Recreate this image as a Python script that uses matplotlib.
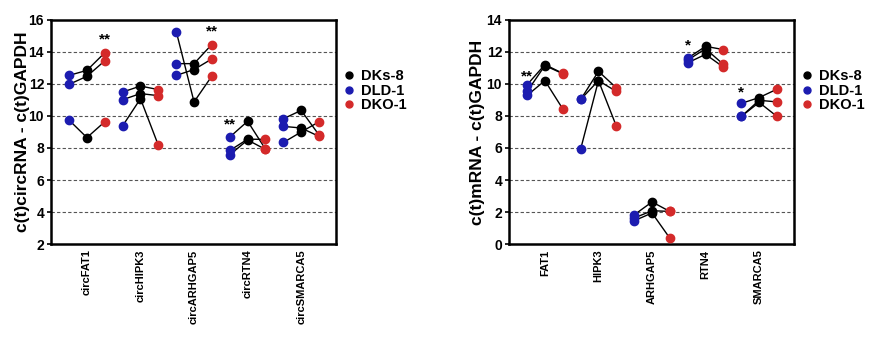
import matplotlib
matplotlib.use("Agg")
import matplotlib.pyplot as plt

plt.rcParams['font.family'] = ['Liberation Sans', 'DejaVu Sans']
plt.rcParams['font.weight'] = 'bold'

# order inside each gene: DLD-1 (left), DKs-8 (middle), DKO-1 (right)
circ_genes = ['circFAT1', 'circHIPK3', 'circARHGAP5', 'circRTN4', 'circSMARCA5']
circ_dld = [[12.54, 11.98, 9.73], [11.50, 11.02, 9.40], [15.25, 13.27, 12.54],
            [8.69, 7.85, 7.58], [9.83, 9.35, 8.35]]
circ_dks = [[12.85, 12.48, 8.65], [11.87, 11.40, 11.08], [10.88, 13.27, 12.90],
            [9.67, 8.55, 8.50], [10.35, 9.25, 9.00]]
circ_dko = [[13.94, 13.44, 9.63], [11.65, 11.27, 8.20], [12.48, 14.46, 13.56],
            [7.95, 8.54, 7.92], [8.83, 8.73, 9.63]]
circ_stars = [(1, 'DKO', 14.75, '**'), (3, 'DKO', 15.25, '**'), (4, 'DLD', 9.5, '**')]

m_genes = ['FAT1', 'HIPK3', 'ARHGAP5', 'RTN4', 'SMARCA5']
m_dld = [[9.96, 9.54, 9.29], [9.04, 9.04, 5.96], [1.83, 1.63, 1.46],
         [11.62, 11.50, 11.33], [8.79, 7.98, 7.98]]
m_dks = [[11.21, 11.15, 10.21], [10.79, 10.21, 10.21], [2.63, 2.08, 1.94],
         [12.35, 12.20, 11.85], [9.15, 8.98, 8.85]]
m_dko = [[10.67, 10.65, 8.46], [9.77, 9.54, 7.40], [2.04, 2.04, 0.38],
         [12.15, 11.23, 11.06], [9.67, 8.88, 7.98]]
m_stars = [(1, 'DLD', 10.45, '**'), (4, 'DLD', 12.4, '*'), (5, 'DLD', 9.5, '*')]

BLUE = '#1c1cb0'
RED = '#d42a2a'
off = 0.33


def panel(ax, genes, dld, dks, dko, stars, ylim, ylabel, labx):
    for i in range(len(genes)):
        xc = i + 1
        for r in range(3):
            ax.plot([xc - off, xc, xc + off], [dld[i][r], dks[i][r], dko[i][r]],
                    color='black', lw=1, zorder=2)
            ax.plot(xc - off, dld[i][r], 'o', color=BLUE, ms=6, zorder=3)
            ax.plot(xc, dks[i][r], 'o', color='black', ms=6, zorder=4)
            ax.plot(xc + off, dko[i][r], 'o', color=RED, ms=6, zorder=3)
    for g, col, y, s in stars:
        x = g - off if col == 'DLD' else g + off
        ax.text(x, y, s, ha='center', va='center', fontsize=11, fontweight='bold')
    ax.set_xlim(0.33, 5.65)
    ax.set_ylim(*ylim)
    ax.set_yticks(range(ylim[0], ylim[1] + 1, 2))
    for yv in range(ylim[0] + 2, ylim[1], 2):
        ax.axhline(yv, color='#555555', lw=0.8, ls=(0, (3, 2)), zorder=1)
    ax.set_xticks(range(1, len(genes) + 1))
    ax.set_xticklabels(genes, rotation=90, fontsize=8, fontweight='bold')
    ax.tick_params(axis='x', length=0, pad=4)
    ax.tick_params(axis='y', labelsize=10, length=3, width=1.2, pad=2)
    for sp in ax.spines.values():
        sp.set_linewidth(1.8)
    ax.set_ylabel(ylabel, fontsize=12.5, fontweight='bold')
    ax.yaxis.set_label_coords(labx, 0.5)
    h = [plt.Line2D([], [], marker='o', ls='', color=c, ms=5) for c in ['black', BLUE, RED]]
    ax.legend(h, ['DKs-8', 'DLD-1', 'DKO-1'], loc='upper left', bbox_to_anchor=(1.0, 0.805),
              frameon=False, fontsize=10.5, handletextpad=0.3, labelspacing=0.02,
              handlelength=1.0, borderaxespad=0)


fig = plt.figure(figsize=(8.74, 3.38), dpi=100)
ax1 = fig.add_axes([0.0584, 0.278, 0.326, 0.663])
ax2 = fig.add_axes([0.5824, 0.278, 0.326, 0.663])
panel(ax1, circ_genes, circ_dld, circ_dks, circ_dko, circ_stars, (2, 16),
      'c(t)circRNA - c(t)GAPDH', -0.075)
panel(ax2, m_genes, m_dld, m_dks, m_dko, m_stars, (0, 14),
      'c(t)mRNA - c(t)GAPDH', -0.085)
fig.savefig('out.png', dpi=100)
